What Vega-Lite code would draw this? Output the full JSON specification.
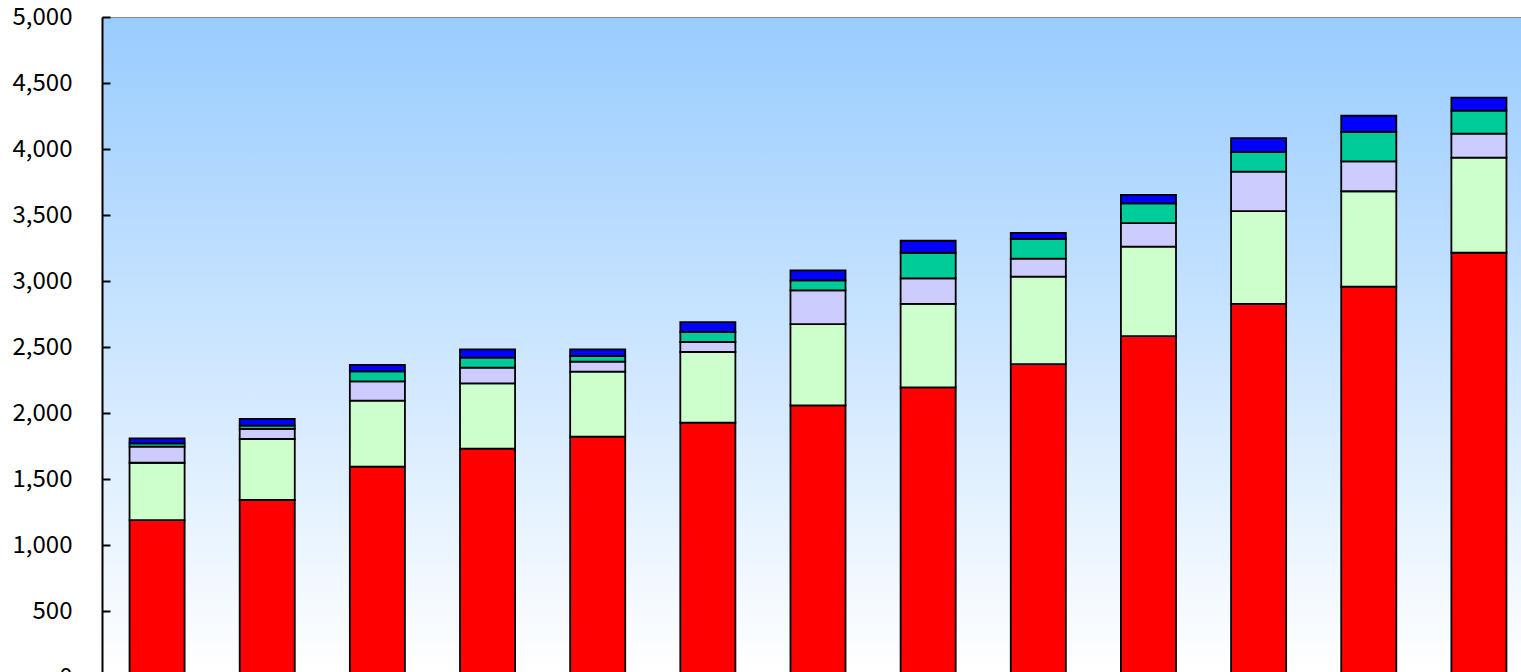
{
  "$schema": "https://vega.github.io/schema/vega-lite/v6.json",
  "autosize": {"type": "none"},
  "padding": {"left": 102, "top": 17, "right": 0, "bottom": 0},
  "width": 1419,
  "height": 655,
  "background": "#FFFFFF",
  "config": {
    "view": {
      "stroke": "#888888",
      "strokeWidth": 1,
      "fill": {"gradient": "linear", "x1": 0, "y1": 0, "x2": 0, "y2": 1,
        "stops": [{"offset": 0, "color": "#99CCFF"}, {"offset": 1, "color": "#FFFFFF"}]}
    }
  },
  "data": {"values": [
    {"c": "1", "s": "A", "o": 1, "v": 1189}, {"c": "1", "s": "B", "o": 2, "v": 434}, {"c": "1", "s": "C", "o": 3, "v": 122}, {"c": "1", "s": "D", "o": 4, "v": 25}, {"c": "1", "s": "E", "o": 5, "v": 38},
    {"c": "2", "s": "A", "o": 1, "v": 1341}, {"c": "2", "s": "B", "o": 2, "v": 462}, {"c": "2", "s": "C", "o": 3, "v": 76}, {"c": "2", "s": "D", "o": 4, "v": 25}, {"c": "2", "s": "E", "o": 5, "v": 51},
    {"c": "3", "s": "A", "o": 1, "v": 1593}, {"c": "3", "s": "B", "o": 2, "v": 500}, {"c": "3", "s": "C", "o": 3, "v": 147}, {"c": "3", "s": "D", "o": 4, "v": 76}, {"c": "3", "s": "E", "o": 5, "v": 48},
    {"c": "4", "s": "A", "o": 1, "v": 1730}, {"c": "4", "s": "B", "o": 2, "v": 495}, {"c": "4", "s": "C", "o": 3, "v": 118}, {"c": "4", "s": "D", "o": 4, "v": 76}, {"c": "4", "s": "E", "o": 5, "v": 63},
    {"c": "5", "s": "A", "o": 1, "v": 1821}, {"c": "5", "s": "B", "o": 2, "v": 492}, {"c": "5", "s": "C", "o": 3, "v": 76}, {"c": "5", "s": "D", "o": 4, "v": 43}, {"c": "5", "s": "E", "o": 5, "v": 50},
    {"c": "6", "s": "A", "o": 1, "v": 1927}, {"c": "6", "s": "B", "o": 2, "v": 535}, {"c": "6", "s": "C", "o": 3, "v": 76}, {"c": "6", "s": "D", "o": 4, "v": 76}, {"c": "6", "s": "E", "o": 5, "v": 75},
    {"c": "7", "s": "A", "o": 1, "v": 2058}, {"c": "7", "s": "B", "o": 2, "v": 616}, {"c": "7", "s": "C", "o": 3, "v": 255}, {"c": "7", "s": "D", "o": 4, "v": 76}, {"c": "7", "s": "E", "o": 5, "v": 76},
    {"c": "8", "s": "A", "o": 1, "v": 2194}, {"c": "8", "s": "B", "o": 2, "v": 632}, {"c": "8", "s": "C", "o": 3, "v": 194}, {"c": "8", "s": "D", "o": 4, "v": 194}, {"c": "8", "s": "E", "o": 5, "v": 91},
    {"c": "9", "s": "A", "o": 1, "v": 2371}, {"c": "9", "s": "B", "o": 2, "v": 662}, {"c": "9", "s": "C", "o": 3, "v": 136}, {"c": "9", "s": "D", "o": 4, "v": 149}, {"c": "9", "s": "E", "o": 5, "v": 46},
    {"c": "10", "s": "A", "o": 1, "v": 2583}, {"c": "10", "s": "B", "o": 2, "v": 677}, {"c": "10", "s": "C", "o": 3, "v": 179}, {"c": "10", "s": "D", "o": 4, "v": 149}, {"c": "10", "s": "E", "o": 5, "v": 64},
    {"c": "11", "s": "A", "o": 1, "v": 2826}, {"c": "11", "s": "B", "o": 2, "v": 704}, {"c": "11", "s": "C", "o": 3, "v": 298}, {"c": "11", "s": "D", "o": 4, "v": 149}, {"c": "11", "s": "E", "o": 5, "v": 106},
    {"c": "12", "s": "A", "o": 1, "v": 2957}, {"c": "12", "s": "B", "o": 2, "v": 723}, {"c": "12", "s": "C", "o": 3, "v": 227}, {"c": "12", "s": "D", "o": 4, "v": 222}, {"c": "12", "s": "E", "o": 5, "v": 123},
    {"c": "13", "s": "A", "o": 1, "v": 3214}, {"c": "13", "s": "B", "o": 2, "v": 720}, {"c": "13", "s": "C", "o": 3, "v": 182}, {"c": "13", "s": "D", "o": 4, "v": 174}, {"c": "13", "s": "E", "o": 5, "v": 99}
  ]},
  "mark": {"type": "bar", "stroke": "#000000", "strokeWidth": 1.8},
  "encoding": {
    "x": {
      "field": "c", "type": "ordinal", "sort": null,
      "scale": {"range": [0, 1432], "paddingInner": 0.5, "paddingOuter": 0.25},
      "axis": null
    },
    "y": {
      "field": "v", "type": "quantitative", "aggregate": "sum", "stack": "zero",
      "scale": {"domain": [0, 5000], "range": [660, 0], "nice": false},
      "axis": {
        "title": null,
        "values": [0, 500, 1000, 1500, 2000, 2500, 3000, 3500, 4000, 4500, 5000],
        "format": ",.0f",
        "grid": false,
        "domainColor": "#000000",
        "domainWidth": 2,
        "tickColor": "#000000",
        "tickWidth": 2,
        "tickSize": -8,
        "labelPadding": 38,
        "labelFont": "Noto Sans CJK JP",
        "labelFontSize": 24,
        "labelColor": "#000000"
      }
    },
    "color": {
      "field": "s", "type": "nominal", "legend": null,
      "scale": {"domain": ["A", "B", "C", "D", "E"], "range": ["#FF0000", "#CCFFCC", "#CCCCFF", "#00CC99", "#0000FF"]}
    },
    "order": {"field": "o", "type": "quantitative"}
  }
}
